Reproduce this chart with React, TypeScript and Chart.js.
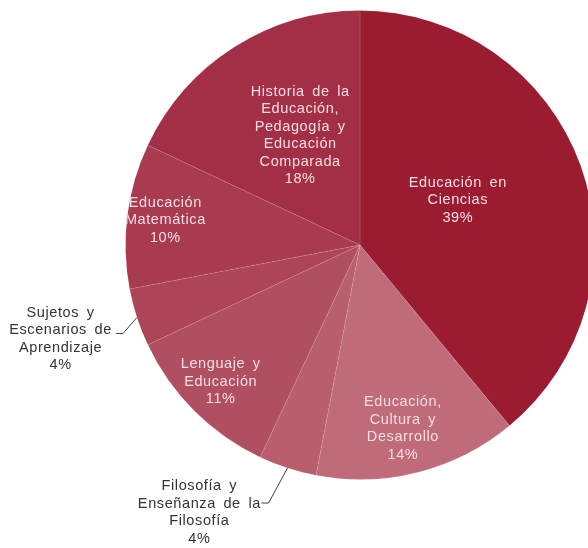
import React, { useEffect, useRef } from "react";
import { Chart, registerables } from "chart.js";

Chart.register(...registerables);

const categories = [
  "Educación en Ciencias",
  "Educación, Cultura y Desarrollo",
  "Filosofía y Enseñanza de la Filosofía",
  "Lenguaje y Educación",
  "Sujetos y Escenarios de Aprendizaje",
  "Educación Matemática",
  "Historia de la Educación, Pedagogía y Educación Comparada",
];
const values = [39, 14, 4, 11, 4, 10, 18];
const labelLines = [
  ["Educación en", "Ciencias"],
  ["Educación,", "Cultura y", "Desarrollo"],
  ["Filosofía y", "Enseñanza de la", "Filosofía"],
  ["Lenguaje y", "Educación"],
  ["Sujetos y", "Escenarios de", "Aprendizaje"],
  ["Educación", "Matemática"],
  ["Historia de la", "Educación,", "Pedagogía y", "Educación", "Comparada"],
];
const colors = ["#9b1c31", "#bf6b79", "#b95e6d", "#b14f62", "#ad4458", "#a83b50", "#a32f46"];

// label placement relative to pie centre, in units of radius
const labelPos: { ax: number; ay: number; outside?: boolean; elbow?: [number, number] }[] = [
  { ax: 0.417, ay: -0.19 },
  { ax: 0.183, ay: 0.783 },
  { ax: -0.685, ay: 1.14, outside: true, elbow: [-19, 35] },
  { ax: -0.594, ay: 0.583 },
  { ax: -1.277, ay: 0.4, outside: true, elbow: [-14, 16] },
  { ax: -0.83, ay: -0.106 },
  { ax: -0.255, ay: -0.468 },
];

const labelPlugin = {
  id: "pieLabels",
  afterDatasetsDraw(chart: any) {
    const ctx = chart.ctx;
    const meta = chart.getDatasetMeta(0);
    const lh = 17.5;
    ctx.save();
    ctx.font = "14.5px 'Liberation Sans', Arial, sans-serif";
    try { (ctx as any).letterSpacing = "0.6px"; } catch (e) {}
    try { (ctx as any).wordSpacing = "3px"; } catch (e) {}
    ctx.textAlign = "center";
    ctx.textBaseline = "middle";
    meta.data.forEach((arc: any, i: number) => {
      const { x, y, outerRadius, startAngle, endAngle } = arc.getProps(
        ["x", "y", "outerRadius", "startAngle", "endAngle"], true);
      const p = labelPos[i];
      const lines = [...labelLines[i], `${values[i]}%`];
      const tx = x + p.ax * outerRadius;
      const ty = y + p.ay * outerRadius;
      const top = ty - ((lines.length - 1) * lh) / 2;
      if (p.outside) {
        const mid = (startAngle + endAngle) / 2;
        const ex = x + Math.cos(mid) * outerRadius;
        const ey = y + Math.sin(mid) * outerRadius;
        const bx = ex + p.elbow![0];
        const by = ey + p.elbow![1];
        ctx.strokeStyle = "#404040";
        ctx.lineWidth = 1;
        ctx.beginPath();
        ctx.moveTo(ex, ey);
        ctx.lineTo(bx, by);
        ctx.lineTo(bx - 7, by);
        ctx.stroke();
        ctx.fillStyle = "#333333";
      } else {
        ctx.fillStyle = "#f6dde1";
      }
      lines.forEach((l, k) => ctx.fillText(l, tx, top + k * lh));
    });
    ctx.restore();
  },
};

export default function App() {
  const ref = useRef<HTMLCanvasElement>(null);
  useEffect(() => {
    const chart = new Chart(ref.current!, {
      type: "pie",
      data: {
        labels: categories,
        datasets: [
          {
            data: values,
            backgroundColor: colors,
            borderColor: "rgba(255,255,255,0.1)",
            borderWidth: 1,
          },
        ],
      },
      options: {
        responsive: false,
        animation: false,
        devicePixelRatio: 1,
        layout: { padding: { left: 125, top: 10, right: 5, bottom: 68 } },
        plugins: { legend: { display: false }, tooltip: { enabled: false } },
      },
      plugins: [labelPlugin],
    });
    return () => chart.destroy();
  }, []);
  return (
    <div style={{ position: "fixed", left: 0, top: 0, width: 588, height: 548, overflow: "hidden", background: "#fff" }}>
      <canvas ref={ref} width={600} height={548} style={{ width: 600, height: 548, display: "block" }} />
    </div>
  );
}
